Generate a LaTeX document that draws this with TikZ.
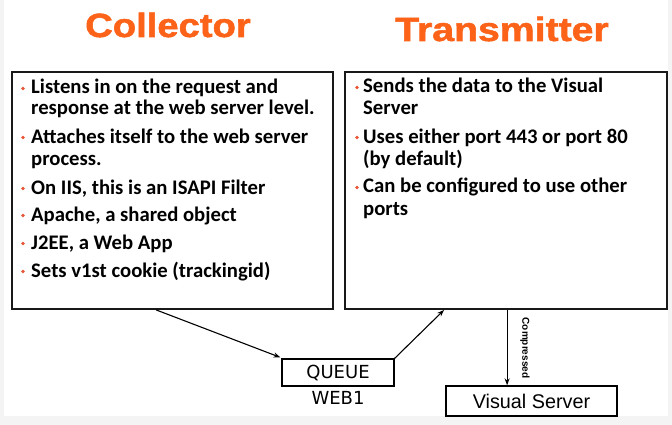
\documentclass[tikz,border=0pt]{standalone}
\usepackage{fontspec}
\usepackage{graphicx}
\setmainfont{Carlito}
\newfontfamily\titlefont{Liberation Sans}[BoldFeatures={FakeBold=1.5}]
\newfontfamily\arialfont{Liberation Sans}
\newfontfamily\queuefont{DejaVu Sans}
\usetikzlibrary{arrows.meta,calc}
\definecolor{ttlorange}{RGB}{252,98,24}
\definecolor{bulletred}{RGB}{232,84,52}
\definecolor{bggray}{RGB}{244,244,244}
\begin{document}
\begin{tikzpicture}[x=1pt,y=-1pt,
  bigbox/.style={draw=black!90,line width=1.8pt,minimum width=321pt,minimum height=237pt,inner sep=0pt},
  smallbox/.style={draw=black,line width=1.1pt,inner sep=0pt},
  ttl/.style={anchor=base,text=ttlorange,font=\titlefont\bfseries\fontsize{33.5}{36}\selectfont},
  line/.style={anchor=base west,inner sep=0pt,font=\bfseries\fontsize{20.7}{22}\selectfont},
  bul/.style={fill=bulletred},
  conn/.style={line width=1.1pt,-{Stealth[length=7pt,width=5pt]}}]
\path[use as bounding box] (0,0) rectangle (672,425);
\fill[bggray] (0,0) rectangle (672,425);
\fill[white] (4,0) rectangle (668,416);
% titles
\node[ttl] (tcol) at (168,37) {\scalebox{1.14}[1]{Collector}};
\node[ttl] (ttra) at (502,41) {\scalebox{1.17}[1]{Transmitter}};
% boxes
\node[bigbox] (lbox) at (172.5,190.5) {};
\node[bigbox,minimum width=322pt] (rbox) at (506,190.5) {};
\node[smallbox,minimum width=112pt,minimum height=27pt,font=\queuefont\fontsize{18}{19}\selectfont] (queue) at (338,372.5) {QUEUE};
\node[anchor=base,inner sep=0pt,font=\queuefont\fontsize{18}{19}\selectfont] (web1) at (338,404) {WEB1};
\node[smallbox,line width=1.4pt,minimum width=171pt,minimum height=30pt,font=\arialfont\fontsize{19.8}{21}\selectfont] (vs) at (531.5,401) {Visual Server};
% left box text
\foreach \y in {94,143,194,221,249,277}{\fill[bul] (23,\y-5.5) circle (1.8);}
\node[line] (l1) at (31,94) {Listens in on the request and};
\node[line] (l2) at (31,115) {response at the web server level.};
\node[line] (l3) at (31,143) {Attaches itself to the web server};
\node[line] (l4) at (31,165) {process.};
\node[line] (l5) at (31,194) {On IIS, this is an ISAPI Filter};
\node[line] (l6) at (31,221) {Apache, a shared object};
\node[line] (l7) at (31,249) {J2EE, a Web App};
\node[line] (l8) at (31,277) {Sets v1st cookie (trackingid)};
% right box text
\foreach \y in {93,143,193}{\fill[bul] (357,\y-5.5) circle (1.8);}
\node[line] (r1) at (363,93) {Sends the data to the Visual};
\node[line] (r2) at (363,115) {Server};
\node[line] (r3) at (363,143) {Uses either port 443 or port 80};
\node[line] (r4) at (363,165) {(by default)};
\node[line] (r5) at (363,193) {Can be configured to use other};
\node[line] (r6) at (363,215) {ports};
% connectors
\draw[conn] ([xshift=145pt]lbox.south west) -- ([xshift=-1pt,yshift=1pt]queue.north west);
\draw[conn] (queue.north east) -- ([xshift=100pt]rbox.south west);
\coordinate (dtop) at ([xshift=163pt]rbox.south west);
\draw[conn] (dtop) -- (dtop |- vs.north);
\node[rotate=-90,inner sep=0pt,font=\arialfont\bfseries\fontsize{10}{12}\selectfont] (comp) at (525,348) {Compressed};
\end{tikzpicture}
\end{document}
